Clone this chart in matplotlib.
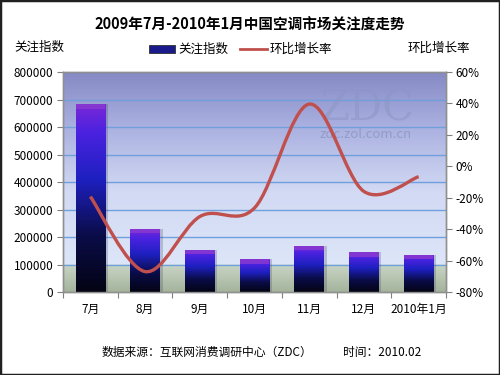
import numpy as np
import matplotlib
matplotlib.use("Agg")
import matplotlib.pyplot as plt
from matplotlib.path import Path
from matplotlib.patches import PathPatch, Rectangle
from matplotlib.colors import LinearSegmentedColormap

plt.rcParams['font.family'] = ['Noto Sans CJK SC', 'DejaVu Sans']

# data
months = ["7月", "8月", "9月", "10月", "11月", "12月", "2010年1月"]
attention = [683000, 229000, 153000, 119000, 167000, 145000, 135000]
growth = [-19.3, -67.0, -32.0, -26.5, 39.6, -16.0, -6.6]
left_ticks = [0, 100000, 200000, 300000, 400000, 500000, 600000, 700000, 800000]
right_ticks = [-80, -60, -40, -20, 0, 20, 40, 60]

fig = plt.figure(figsize=(5, 3.75), dpi=100)
fig.patch.set_facecolor("white")
fig.add_artist(Rectangle((0, 0), 1, 1, transform=fig.transFigure, fill=False,
                         edgecolor="#202020", linewidth=2.5))

ax = fig.add_axes([0.126, 0.2213, 0.766, 0.5867])
ax2 = ax.twinx()

x = np.arange(len(months))
ax.set_xlim(-0.5, len(months) - 0.5)
ax.set_ylim(0, 800000)
ax2.set_ylim(-80, 60)

# background gradient of plot area
bg = LinearSegmentedColormap.from_list("bg", [
    (0.0, "#a4b49c"), (0.12, "#c8d4c4"), (0.125, "#dde5f8"),
    (0.45, "#d2daf4"), (0.75, "#aab0e0"), (1.0, "#8589c4")])
grad = np.linspace(0, 1, 256).reshape(-1, 1)
ax.imshow(grad, cmap=bg, aspect="auto", origin="lower",
          extent=(0, 1, 0, 1), transform=ax.transAxes, zorder=0)

for t in left_ticks[1:-1]:
    ax.axhline(t, color="#6f9fdc", linewidth=1, zorder=1)
ax.axhline(800000, color="#6f9fdc", linewidth=1.5, zorder=1)

# watermark
ax.text(0.794, 0.835, "ZDC", transform=ax.transAxes, ha="center", va="center",
        fontsize=30, family="DejaVu Serif", color="#8c96c6", alpha=0.55, zorder=1)
ax.text(0.79, 0.714, "zdc.zol.com.cn", transform=ax.transAxes, ha="center",
        va="center", fontsize=9.5, color="#8e96c2", alpha=0.85, zorder=1)

# bars with vertical gradient
bar_cmap = LinearSegmentedColormap.from_list("bar", [
    (0.0, "#040414"), (0.3, "#0a0c48"), (0.6, "#1e20c0"),
    (0.85, "#4a22e0"), (1.0, "#7a28d8")])
bars = ax.bar(x, attention, width=0.54, color="none", edgecolor="none", zorder=2)
for b, v in zip(bars, attention):
    bx, bw = b.get_x(), b.get_width()
    # soft shadow
    ax.add_patch(Rectangle((bx + 0.05, 0), bw, v, facecolor="#404060",
                           alpha=0.25, edgecolor="none", zorder=2))
    im = ax.imshow(grad, cmap=bar_cmap, aspect="auto", origin="lower",
                   extent=(bx, bx + bw, 0, v), zorder=3)
    im.set_clip_path(b)
    cap = 16000
    ax.add_patch(Rectangle((bx, v - cap), bw, cap, facecolor="#8a3ad0",
                           edgecolor="none", alpha=0.8, zorder=4))

ax.set_xlim(-0.5, len(months) - 0.5)
ax.set_ylim(0, 800000)

# smooth growth line (Catmull-Rom through the data points)
pts = np.column_stack([x, growth]).astype(float)
verts = [tuple(pts[0])]
codes = [Path.MOVETO]
for i in range(len(pts) - 1):
    p0 = pts[i - 1] if i > 0 else pts[i]
    p1, p2 = pts[i], pts[i + 1]
    p3 = pts[i + 2] if i + 2 < len(pts) else pts[i + 1]
    c1 = p1 + (p2 - p0) / 6
    c2 = p2 - (p3 - p1) / 6
    verts += [tuple(c1), tuple(c2), tuple(p2)]
    codes += [Path.CURVE4] * 3
ax2.add_patch(PathPatch(Path(verts, codes), facecolor="none",
                        edgecolor="#c0504d", linewidth=2.4, zorder=5))

# axes styling
ax.set_xticks(np.arange(len(months) + 1) - 0.5, minor=False)
ax.set_xticklabels([])
ax.set_xticks(x, minor=True)
ax.set_xticklabels(months, minor=True, fontsize=8.5)
ax.tick_params(axis="x", which="minor", length=0, pad=8)
ax.tick_params(axis="x", which="major", length=4, color="#808080", direction="out")
ax.set_yticks(left_ticks)
ax.set_yticklabels([str(t) for t in left_ticks], fontsize=8.5)
ax.tick_params(axis="y", length=4, color="#808080", pad=3)
ax2.set_yticks(right_ticks)
ax2.set_yticklabels([f"{t}%" for t in right_ticks], fontsize=8.5)
ax2.tick_params(axis="y", length=4, color="#808080", pad=3)
for a in (ax, ax2):
    for s in a.spines.values():
        s.set_color("#909090")
        s.set_linewidth(1)

# titles and labels
fig.text(0.5, 0.935, "2009年7月-2010年1月中国空调市场关注度走势", ha="center",
         va="center", fontsize=10.5, fontweight="bold")
fig.text(0.028, 0.875, "关注指数", ha="left", va="center", fontsize=9)
fig.text(0.94, 0.872, "环比增长率", ha="right", va="center", fontsize=9)

# legend
fig.add_artist(Rectangle((0.298, 0.858), 0.052, 0.022, transform=fig.transFigure,
                         facecolor="#1a1a8a", edgecolor="#303030", linewidth=0.6))
fig.text(0.356, 0.868, "关注指数", ha="left", va="center", fontsize=9)
fig.add_artist(plt.Line2D([0.48, 0.534], [0.869, 0.869], transform=fig.transFigure,
                          color="#c0504d", linewidth=2))
fig.text(0.54, 0.868, "环比增长率", ha="left", va="center", fontsize=9)

# footer
fig.text(0.204, 0.061, "数据来源：互联网消费调研中心（ZDC）", ha="left",
         va="center", fontsize=8.5)
fig.text(0.686, 0.061, "时间：2010.02", ha="left", va="center", fontsize=8.5)

fig.savefig("out.png", dpi=100)
